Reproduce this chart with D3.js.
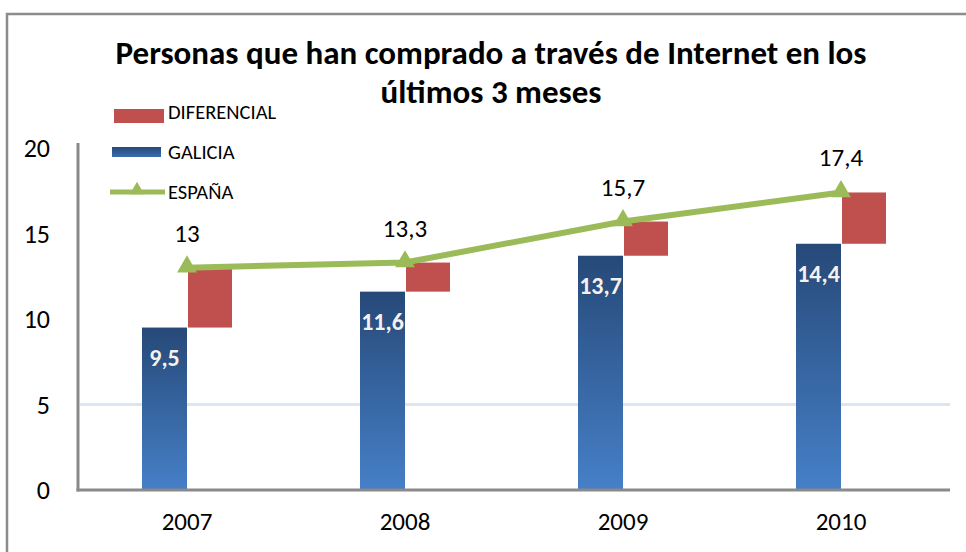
<!DOCTYPE html>
<html><head><meta charset="utf-8">
<script src="https://cdn.jsdelivr.net/npm/d3@7"></script>
<style>body{margin:0;background:#fff}svg{display:block}text{font-family:Carlito,Calibri,Lato,"Open Sans",sans-serif}</style>
</head><body>
<svg id="c" width="966" height="552"></svg>
<script>
const categories = ["2007","2008","2009","2010"];
const galicia = [9.5, 11.6, 13.7, 14.4];
const espana = [13, 13.3, 15.7, 17.4];
const galiciaLabels = ["9,5","11,6","13,7","14,4"];
const espanaLabels = ["13","13,3","15,7","17,4"];
const yTicks = [0,5,10,15,20];
const titleLines = ["Personas que han comprado a través de Internet en los","últimos 3 meses"];
const legendItems = ["DIFERENCIAL","GALICIA","ESPAÑA"];

const svg = d3.select("#c");
const defs = svg.append("defs");
const g1 = defs.append("linearGradient").attr("id","gal").attr("x1",0).attr("y1",0).attr("x2",0).attr("y2",1);
g1.append("stop").attr("offset","0%").attr("stop-color","#264978");
g1.append("stop").attr("offset","100%").attr("stop-color","#4680C8");
const g2 = defs.append("linearGradient").attr("id","galLeg").attr("x1",0).attr("y1",0).attr("x2",0).attr("y2",1);
g2.append("stop").attr("offset","0%").attr("stop-color","#264978");
g2.append("stop").attr("offset","100%").attr("stop-color","#3A6DAE");

// outer border
svg.append("path").attr("d","M7,560 L7,14 L970,14").attr("fill","none").attr("stroke","#8c8c8c").attr("stroke-width",2.5);

const x = d3.scaleBand().domain(categories).range([78,950]);
const y = d3.scaleLinear().domain([0,20]).range([490,148]);
const bw = 45;

// gridline at 5
svg.append("line").attr("x1",80).attr("x2",950).attr("y1",y(5)).attr("y2",y(5)).attr("stroke","#DCE6F2").attr("stroke-width",3);

// galicia bars
svg.selectAll(".gb").data(galicia).join("rect")
  .attr("x",(d,i)=>x(categories[i])+x.bandwidth()/2-bw)
  .attr("y",d=>y(d)).attr("width",bw).attr("height",d=>y(0)-y(d)).attr("fill","url(#gal)");
// differential bars
svg.selectAll(".db").data(espana).join("rect")
  .attr("x",(d,i)=>x(categories[i])+x.bandwidth()/2+1)
  .attr("y",d=>y(d)).attr("width",bw-1).attr("height",(d,i)=>y(galicia[i])-y(d)).attr("fill","#C0504D");

// axes
const yAxis = svg.append("g").attr("transform","translate(78,0)")
  .call(d3.axisLeft(y).tickValues(yTicks).tickSize(0).tickPadding(28).tickFormat(d3.format("d")));
yAxis.select(".domain").remove();
yAxis.selectAll("text").attr("font-size",26).attr("fill","#000").attr("dy","0.34em").style("font-family","Carlito,Calibri,Lato,sans-serif");
svg.append("line").attr("x1",78).attr("x2",78).attr("y1",143).attr("y2",491.5).attr("stroke","#8a8a8a").attr("stroke-width",3);
const xAxis = svg.append("g").attr("transform","translate(0,490)")
  .call(d3.axisBottom(x).tickSize(0).tickPadding(22));
xAxis.select(".domain").remove();
xAxis.selectAll("text").attr("font-size",25).attr("fill","#000").style("font-family","Carlito,Calibri,Lato,sans-serif");
svg.append("line").attr("x1",76.5).attr("x2",950).attr("y1",490).attr("y2",490).attr("stroke","#8a8a8a").attr("stroke-width",3);

// galicia labels
svg.selectAll(".gl").data(galicia).join("text")
  .attr("x",(d,i)=>x(categories[i])+x.bandwidth()/2-bw/2)
  .attr("y",d=>y(d)+38).attr("text-anchor","middle")
  .attr("font-size",24).attr("font-weight","bold").attr("fill","#F2F2F2")
  .style("paint-order","stroke").attr("stroke","rgba(60,60,60,0.25)").attr("stroke-width",1.5)
  .text((d,i)=>galiciaLabels[i]);

// espana line
const cx = (i)=>x(categories[i])+x.bandwidth()/2;
const line = d3.line().x((d,i)=>cx(i)).y(d=>y(d));
svg.append("path").datum(espana).attr("d",line).attr("fill","none").attr("stroke","#9BBB59").attr("stroke-width",6);
const tri = d3.symbol().type(d3.symbolTriangle).size(170);
svg.selectAll(".mk").data(espana).join("path")
  .attr("transform",(d,i)=>`translate(${cx(i)},${y(d)-1})`).attr("d",tri).attr("fill","#9BBB59");
svg.selectAll(".el").data(espana).join("text")
  .attr("x",(d,i)=>cx(i)).attr("y",d=>y(d)-26).attr("text-anchor","middle")
  .attr("font-size",25).attr("fill","#000").text((d,i)=>espanaLabels[i]);

// title
svg.selectAll(".tt").data(titleLines).join("text")
  .attr("x",491).attr("y",(d,i)=>64+i*39).attr("text-anchor","middle")
  .attr("font-size",33).attr("font-weight","bold").attr("fill","#000").text(d=>d);

// legend
const lg = svg.append("g");
lg.append("rect").attr("x",114).attr("y",109).attr("width",50).attr("height",14).attr("fill","#C0504D");
lg.append("rect").attr("x",112).attr("y",147).attr("width",49).attr("height",10).attr("fill","url(#galLeg)");
lg.append("line").attr("x1",110).attr("x2",165).attr("y1",192).attr("y2",192).attr("stroke","#9BBB59").attr("stroke-width",5);
lg.append("path").attr("transform","translate(137,190)").attr("d",d3.symbol().type(d3.symbolTriangle).size(90)).attr("fill","#9BBB59");
lg.selectAll(".lt").data(legendItems).join("text")
  .attr("x",168).attr("y",(d,i)=>119+i*40).attr("font-size",20.5).attr("fill","#000").text(d=>d);
</script>
</body></html>
